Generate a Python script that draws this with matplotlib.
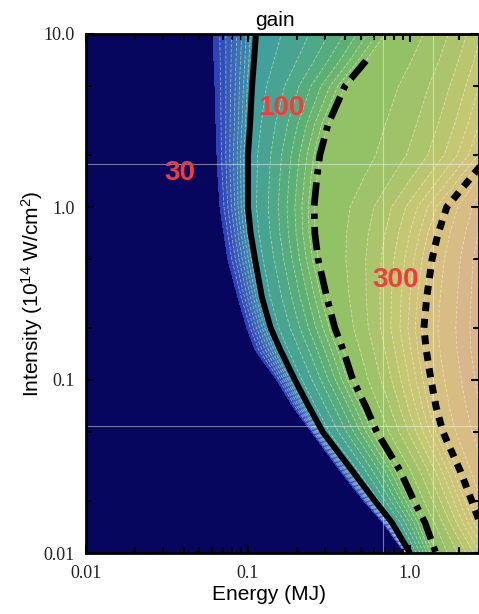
import numpy as np
import matplotlib.pyplot as plt
from matplotlib.colors import LinearSegmentedColormap, Normalize
from matplotlib.ticker import LogLocator, NullFormatter

plt.close('all')
plt.rcParams['mathtext.fontset'] = 'custom'
plt.rcParams['mathtext.rm'] = 'Liberation Sans'
plt.rcParams['mathtext.it'] = 'Liberation Sans:italic'
plt.rcParams['mathtext.bf'] = 'Liberation Sans:bold'

# Intensity rows (10^14 W/cm^2)
intensity = [10, 7, 5, 3, 2, 1.5, 1, 0.7, 0.5, 0.3, 0.2, 0.15, 0.1,
             0.07, 0.05, 0.03, 0.02, 0.015, 0.01]

# Energy (MJ) where the gain reaches 30 / 100 / 300 / 1000 on each row
e30 = [0.0608, 0.0617, 0.0626, 0.0635, 0.0644, 0.0653, 0.0672, 0.0711, 0.0752,
       0.0868, 0.0986, 0.1105, 0.151, 0.190, 0.248, 0.370, 0.520, 0.681, 0.931]
e100 = [0.112, 0.109, 0.106, 0.103, 0.100, 0.100, 0.100, 0.104, 0.1105,
        0.122, 0.138, 0.158, 0.195, 0.238, 0.290, 0.439, 0.608, 0.774, 1.0]
e300 = [0.701, 0.535, 0.397, 0.312, 0.278, 0.267, 0.256, 0.259, 0.271,
        0.307, 0.344, 0.386, 0.445, 0.535, 0.625, 0.868, 1.058, 1.238, 1.447]
e1000 = [5.0, 4.6, 4.2, 3.6, 3.1, 2.41, 1.69, 1.49, 1.37,
         1.27, 1.22, 1.26, 1.35, 1.45, 1.60, 2.04, 2.41, 2.70, 3.6]

# gain at the low / high energy ends of each row
e_low, gain_low = 0.01, 10
e_high = 6.0
gain_high = [1600, 1800, 2000, 2500, 3000, 3500, 4000, 4500, 5000,
             5000, 5000, 5000, 4500, 4000, 3500, 3000, 2500, 2000, 1600]

# faint guide lines seen on the plot
guide_e = [0.68, 1.39]
guide_i = [1.77, 0.054]

# contour labels
label_text = ['30', '100', '300']
label_e = [0.038, 0.162, 0.81]
label_i = [1.58, 3.73, 0.378]

n = len(intensity)
X = np.column_stack([np.full(n, e_low), e30, e100, e300, e1000, np.full(n, e_high)])
Y = np.repeat(np.array(intensity)[:, None], 6, axis=1)
G = np.column_stack([np.full(n, gain_low), np.full(n, 30), np.full(n, 100),
                     np.full(n, 300), np.full(n, 1000), gain_high])
Z = np.log10(G)

levels = np.log10(30) + np.arange(0, 40) / 16 - 1e-6

z0, z1 = np.log10(30), 3.25
stops = [(1.477, '#2c3cba'), (1.7, '#3a6ab4'), (2.0, '#40a09c'), (2.25, '#5cb074'),
         (2.48, '#8ec064'), (2.75, '#c4c872'), (3.0, '#d6c07e'), (3.25, '#d9b293')]
cmap = LinearSegmentedColormap.from_list(
    'gain', [((z - z0) / (z1 - z0) if z > z0 else 0.0, c) for z, c in stops])

fig = plt.figure(figsize=(4.79, 6.14), dpi=100)
ax = fig.add_axes([86 / 479, 1 - 553 / 614, 1 - 86 / 479, 519 / 614])
ax.set_facecolor('#06065e')
ax.set_xscale('log')
ax.set_yscale('log')

ax.contourf(X, Y, Z, levels=levels, cmap=cmap, norm=Normalize(z0, z1), extend='max')
ax.contour(X, Y, Z, levels=levels[1:], colors='white', linewidths=0.6,
           alpha=0.45, linestyles=[(0, (4, 2))])

for e in guide_e:
    ax.axvline(e, color='white', lw=0.8, alpha=0.45)
for i in guide_i:
    ax.axhline(i, color='white', lw=0.8, alpha=0.45)

ax.plot(e100, intensity, color='black', lw=4.3, solid_capstyle='butt',
        solid_joinstyle='round')
ax.plot(e300[1:], intensity[1:], color='black', lw=4.8,
        linestyle=(0, (3.5, 1.2, 0.8, 1.2)), dash_capstyle='butt')
ax.plot(e1000, intensity, color='black', lw=5.0,
        linestyle=(0, (1.3, 1.1)), dash_capstyle='butt')

for t, e, i in zip(label_text, label_e, label_i):
    ax.text(e, i, t, color='#f23c3c', fontsize=20, fontweight='bold',
            ha='center', va='center', family='Liberation Sans')

ax.set_xlim(0.01, 2.67)
ax.set_ylim(0.01, 10)

ax.set_xticks([0.01, 0.1, 1.0], ['0.01', '0.1', '1.0'])
ax.set_yticks([0.01, 0.1, 1.0, 10.0], ['0.01', '0.1', '1.0', '10.0'])
ax.xaxis.set_minor_locator(LogLocator(base=10, subs=np.arange(2, 10)))
ax.yaxis.set_minor_locator(LogLocator(base=10, subs=(2, 5)))
ax.xaxis.set_minor_formatter(NullFormatter())
ax.yaxis.set_minor_formatter(NullFormatter())
ax.tick_params(which='both', direction='in', top=True, right=True, width=1.5,
               colors='black')
ax.tick_params(which='major', length=6)
ax.tick_params(which='minor', length=4)
ax.tick_params(axis='x', which='major', pad=9)
ax.tick_params(axis='y', which='major', pad=8)
for lab in ax.get_xticklabels() + ax.get_yticklabels():
    lab.set_family('Liberation Serif')
    lab.set_fontsize(13)
    lab.set_color('#222222')
for sp in ax.spines.values():
    sp.set_linewidth(2)

ax.set_title('gain', fontsize=15, family='Liberation Sans', x=0.48, pad=6)
ax.set_xlabel('Energy (MJ)', fontsize=15, family='Liberation Sans', x=0.466, labelpad=2)
ax.set_ylabel('Intensity (10$^{14}$ W/cm$^2$)', fontsize=15, family='Liberation Sans',
              labelpad=-1)

fig.savefig('out.png', dpi=100)
